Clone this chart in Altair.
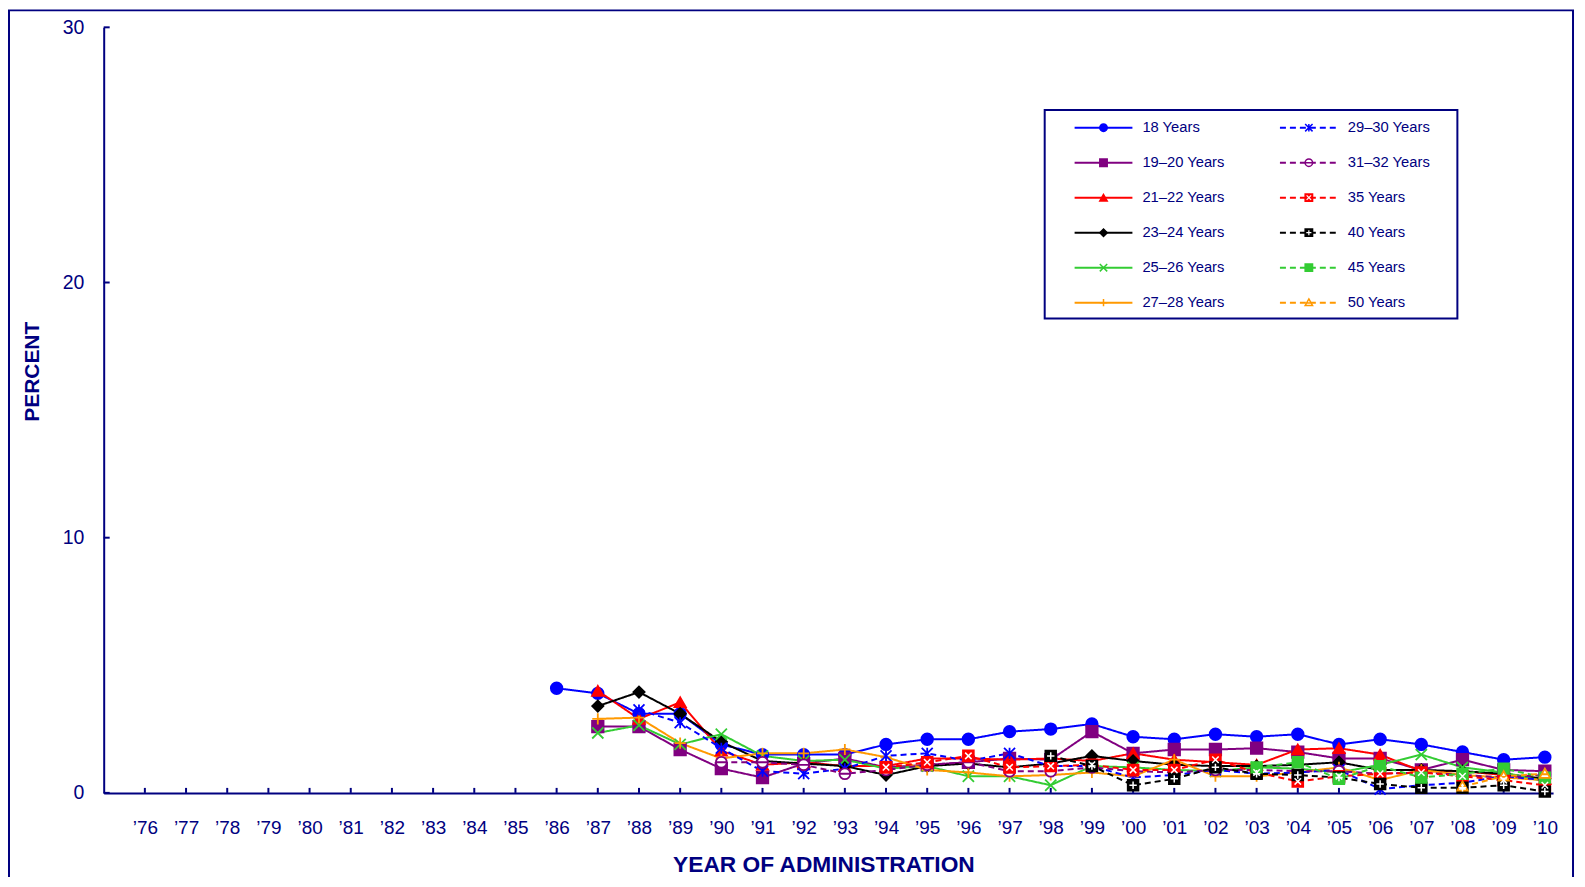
import altair as alt
import pandas as pd

N = None
NAVY = "#000080"
FONT = "Liberation Sans"

# ---------------- data ----------------
years = list(range(1986, 2011))
axis_years = list(range(1976, 2011))
y_tick_values = [0, 10, 20, 30]

series_names = ["18 Years", "19\u201320 Years", "21\u201322 Years", "23\u201324 Years",
                "25\u201326 Years", "27\u201328 Years", "29\u201330 Years", "31\u201332 Years",
                "35 Years", "40 Years", "45 Years", "50 Years"]

v_18 = [4.1, 3.9, 3.1, 3.1, 1.9, 1.5, 1.5, 1.5, 1.9, 2.1, 2.1, 2.4, 2.5, 2.7, 2.2, 2.1, 2.3, 2.2, 2.3, 1.9, 2.1, 1.9, 1.6, 1.3, 1.4]
v_19_20 = [N, 2.6, 2.6, 1.7, 0.95, 0.6, 1.15, 1.35, 1.0, 1.1, 1.2, 1.35, 1.3, 2.4, 1.55, 1.7, 1.7, 1.75, 1.6, 1.35, 1.35, 0.9, 1.3, 0.9, 0.85]
v_21_22 = [N, 4.0, 2.9, 3.55, 1.65, 1.1, 1.2, 1.05, 1.05, 1.35, 1.35, 1.3, 1.35, 1.25, 1.55, 1.3, 1.2, 1.1, 1.7, 1.75, 1.5, 0.85, 0.85, 0.7, 0.55]
v_23_24 = [N, 3.4, 3.95, 3.1, 2.0, 1.25, 1.15, 1.05, 0.7, 1.05, 1.15, 1.0, 1.15, 1.45, 1.25, 1.1, 1.05, 1.05, 1.1, 1.2, 0.9, 0.9, 0.85, 0.75, 0.55]
v_25_26 = [N, 2.35, 2.65, 1.9, 2.3, 1.45, 1.25, 1.3, 0.95, 1.05, 0.65, 0.65, 0.3, 1.05, 1.0, 0.9, 0.85, 1.0, 0.95, 0.8, 1.1, 1.5, 1.0, 0.8, 0.45]
v_27_28 = [N, 2.9, 2.95, 1.95, 1.35, 1.55, 1.55, 1.7, 1.4, 0.9, 0.8, 0.65, 0.7, 0.8, 0.65, 1.3, 0.65, 0.65, 0.8, 1.0, 0.5, 0.9, 0.7, 0.6, 0.5]
v_29_30 = [N, N, 3.25, 2.75, 1.75, 0.85, 0.75, 0.95, 1.45, 1.55, 1.25, 1.55, 1.05, 1.05, 0.6, 0.7, 0.9, 0.75, 0.8, 0.9, 0.15, 0.3, 0.4, 0.65, 0.5]
v_31_32 = [N, N, N, N, 1.2, 1.2, 1.1, 0.75, 0.9, 1.1, 1.2, 0.85, 0.85, 1.0, 0.85, 0.8, 0.9, 0.9, 0.85, 0.85, 0.75, 0.8, 0.7, 0.6, 0.7]
v_35 = [N, N, N, N, N, N, N, N, 1.0, 1.2, 1.45, 1.0, 1.05, 1.1, 0.9, 0.9, 1.3, 0.8, 0.45, 0.65, 0.75, 0.8, 0.65, 0.5, 0.3]
v_40 = [N, N, N, N, N, N, N, N, N, N, N, N, 1.45, 1.05, 0.3, 0.55, 1.0, 0.75, 0.7, 0.6, 0.35, 0.2, 0.2, 0.3, 0.05]
v_45 = [N, N, N, N, N, N, N, N, N, N, N, N, N, N, N, N, N, 1.0, 1.2, 0.55, 1.05, 0.6, 0.75, 0.95, 0.6]
v_50 = [N, N, N, N, N, N, N, N, N, N, N, N, N, N, N, N, N, N, N, N, N, N, 0.25, 0.65, 0.75]

all_values = [v_18, v_19_20, v_21_22, v_23_24, v_25_26, v_27_28,
              v_29_30, v_31_32, v_35, v_40, v_45, v_50]

# ---------------- styles ----------------
BLUE, PURPLE, RED, BLACK, GREEN, ORANGE = "#0000FF", "#800080", "#FF0000", "#000000", "#33CC33", "#FF9900"
line_colors = [BLUE, PURPLE, RED, BLACK, GREEN, ORANGE] * 2
dash_range = [[1, 0]] * 6 + [[6, 4]] * 6

SH_X = "M-1,-1L1,1M-1,1L1,-1"
SH_PLUS = "M-1,0L1,0M0,-1L0,1"
SH_AST = "M-1,-1L1,1M-1,1L1,-1M0,-1L0,1"
SH_CMINUS = "M-1,0A1,1,0,1,1,1,0A1,1,0,1,1,-1,0ZM-1,0L1,0"
SH_TRI_OPEN = "M0,-1L1,0.8L-1,0.8ZM-0.5,0.1L0.5,0.1"

shape_range = ["circle", "square", "triangle-up", "diamond", SH_X, SH_PLUS,
               SH_AST, SH_CMINUS, "square", "square", "square", SH_TRI_OPEN]
fill_range = [BLUE, PURPLE, RED, BLACK, "transparent", "transparent",
              "transparent", "white", RED, BLACK, GREEN, "white"]
size_range = [135, 110, 135, 145, 105, 150, 120, 80, 120, 120, 95, 120]

rows = []
for name, vals in zip(series_names, all_values):
    for yr, v in zip(years, vals):
        if v is not None:
            rows.append({"series": name, "year": yr, "value": v})
df = pd.DataFrame(rows)

legend_df = pd.DataFrame({"series": series_names, "idx": list(range(len(series_names)))})

color_scale = alt.Scale(domain=series_names, range=line_colors)
dash_scale = alt.Scale(domain=series_names, range=dash_range)
shape_scale = alt.Scale(domain=series_names, range=shape_range)
fill_scale = alt.Scale(domain=series_names, range=fill_range)
stroke_scale = alt.Scale(domain=series_names, range=line_colors)
size_scale = alt.Scale(domain=series_names, range=size_range)

W, H = 1454, 768
X0, X1 = 1975, 2010.2
xs = alt.Scale(domain=[X0, X1], nice=False, zero=False)
ys = alt.Scale(domain=[0, 30], nice=False)

x_axis = alt.Axis(values=axis_years, labelExpr="'\u2019' + slice(toString(datum.value), 2)",
                  ticks=False, grid=False, domainColor=NAVY, domainWidth=2,
                  labelFontSize=19, labelColor=NAVY, labelFont=FONT, labelPadding=26,
                  labelFlush=False, labelOverlap=False,
                  title="YEAR OF ADMINISTRATION", titleFontSize=22.8, titleFont=FONT,
                  titleFontWeight="bold", titleColor=NAVY, titleX=722, titleY=79,
                  titleAlign="center", titleBaseline="alphabetic")
y_axis = alt.Axis(values=y_tick_values, ticks=False, grid=False, domainColor=NAVY, domainWidth=2,
                  labelFontSize=19.5, labelColor=NAVY, labelFont=FONT, labelPadding=20,
                  title="PERCENT", titleFontSize=21, titleFont=FONT, titleFontWeight="bold",
                  titleColor=NAVY, titleX=-71, titleY=345, titleAngle=270,
                  titleAlign="center", titleBaseline="middle")


def XE(field="year:Q"):
    return alt.X(field, scale=xs, axis=x_axis)


def YE(field="value:Q"):
    return alt.Y(field, scale=ys, axis=y_axis)


frame = alt.Chart(alt.Data(values=[{}])).mark_rect(
    fill="transparent", stroke=NAVY, strokeWidth=2
).encode(x=alt.value(-95), x2=alt.value(1474), y=alt.value(-17), y2=alt.value(H + 200))

x_ticks = alt.Chart(pd.DataFrame({"year": axis_years})).mark_rule(color=NAVY, strokeWidth=2).encode(
    x=XE(), y=alt.value(H), y2=alt.value(H - 5))
y_ticks = alt.Chart(pd.DataFrame({"value": y_tick_values})).mark_rule(color=NAVY, strokeWidth=2).encode(
    y=YE(), x=alt.value(0), x2=alt.value(6))

lines = alt.Chart(df).mark_line(strokeWidth=2).encode(
    x=XE(), y=YE(),
    color=alt.Color("series:N", scale=color_scale, legend=None),
    strokeDash=alt.StrokeDash("series:N", scale=dash_scale, legend=None),
    detail="series:N",
    order="year:Q",
)
points = alt.Chart(df).mark_point(opacity=1, strokeWidth=1.8).encode(
    x=XE(), y=YE(),
    shape=alt.Shape("series:N", scale=shape_scale, legend=None),
    fill=alt.Fill("series:N", scale=fill_scale, legend=None),
    stroke=alt.Stroke("series:N", scale=stroke_scale, legend=None),
    size=alt.Size("series:N", scale=size_scale, legend=None),
)
ov35 = alt.Chart(df).transform_filter(alt.datum.series == "35 Years").mark_point(
    opacity=1, shape=SH_X, stroke="white", strokeWidth=1.5, size=42, fill="transparent"
).encode(x=XE(), y=YE())
ov40 = alt.Chart(df).transform_filter(alt.datum.series == "40 Years").mark_point(
    opacity=1, shape=SH_PLUS, stroke="white", strokeWidth=1.5, size=55, fill="transparent"
).encode(x=XE(), y=YE())

# ---------------- legend (placed through the same scales) ----------------
leg_box = alt.Chart(alt.Data(values=[{}])).mark_rect(fill="white", stroke=NAVY, strokeWidth=2).encode(
    x=alt.value(944), x2=alt.value(1358), y=alt.value(83), y2=alt.value(292))

kx = (X1 - X0) / W
ky = 30.0 / H
leg_base = alt.Chart(legend_df).transform_calculate(
    col="floor(datum.idx / 6)", row="datum.idx % 6"
).transform_calculate(
    px0="974 + 206 * datum.col", py="100.7 + 35.1 * datum.row"
).transform_calculate(
    lx0=f"{X0} + datum.px0 * {kx}",
    lx1=f"{X0} + (datum.px0 + 58) * {kx}",
    lxm=f"{X0} + (datum.px0 + 29) * {kx}",
    ltx=f"{X0} + (datum.px0 + 68) * {kx}",
    ly=f"30 - datum.py * {ky}",
)

leg_lines = leg_base.mark_rule(strokeWidth=2).encode(
    x=XE("lx0:Q"), x2="lx1:Q", y=YE("ly:Q"),
    color=alt.Color("series:N", scale=color_scale, legend=None),
    strokeDash=alt.StrokeDash("series:N", scale=dash_scale, legend=None),
)
leg_points = leg_base.mark_point(opacity=1, strokeWidth=1.5, size=55).encode(
    x=XE("lxm:Q"), y=YE("ly:Q"),
    shape=alt.Shape("series:N", scale=shape_scale, legend=None),
    fill=alt.Fill("series:N", scale=fill_scale, legend=None),
    stroke=alt.Stroke("series:N", scale=stroke_scale, legend=None),
)
leg_ov35 = leg_base.transform_filter(alt.datum.series == "35 Years").mark_point(
    opacity=1, shape=SH_X, stroke="white", strokeWidth=1.2, size=20, fill="transparent"
).encode(x=XE("lxm:Q"), y=YE("ly:Q"))
leg_ov40 = leg_base.transform_filter(alt.datum.series == "40 Years").mark_point(
    opacity=1, shape=SH_PLUS, stroke="white", strokeWidth=1.2, size=26, fill="transparent"
).encode(x=XE("lxm:Q"), y=YE("ly:Q"))
leg_text = leg_base.mark_text(align="left", baseline="middle", fontSize=14.8, font=FONT, color=NAVY).encode(
    x=XE("ltx:Q"), y=YE("ly:Q"), text="series:N")

chart = alt.layer(
    frame, x_ticks, y_ticks, lines, points, ov35, ov40,
    leg_box, leg_lines, leg_points, leg_ov35, leg_ov40, leg_text
).properties(
    width=W, height=H,
    autosize=alt.AutoSizeParams(type="none"),
    padding={"left": 96, "top": 18, "right": 24, "bottom": 83},
).configure_view(stroke=None)

chart.save("out.html", embed_options={"renderer": "svg", "actions": False})
